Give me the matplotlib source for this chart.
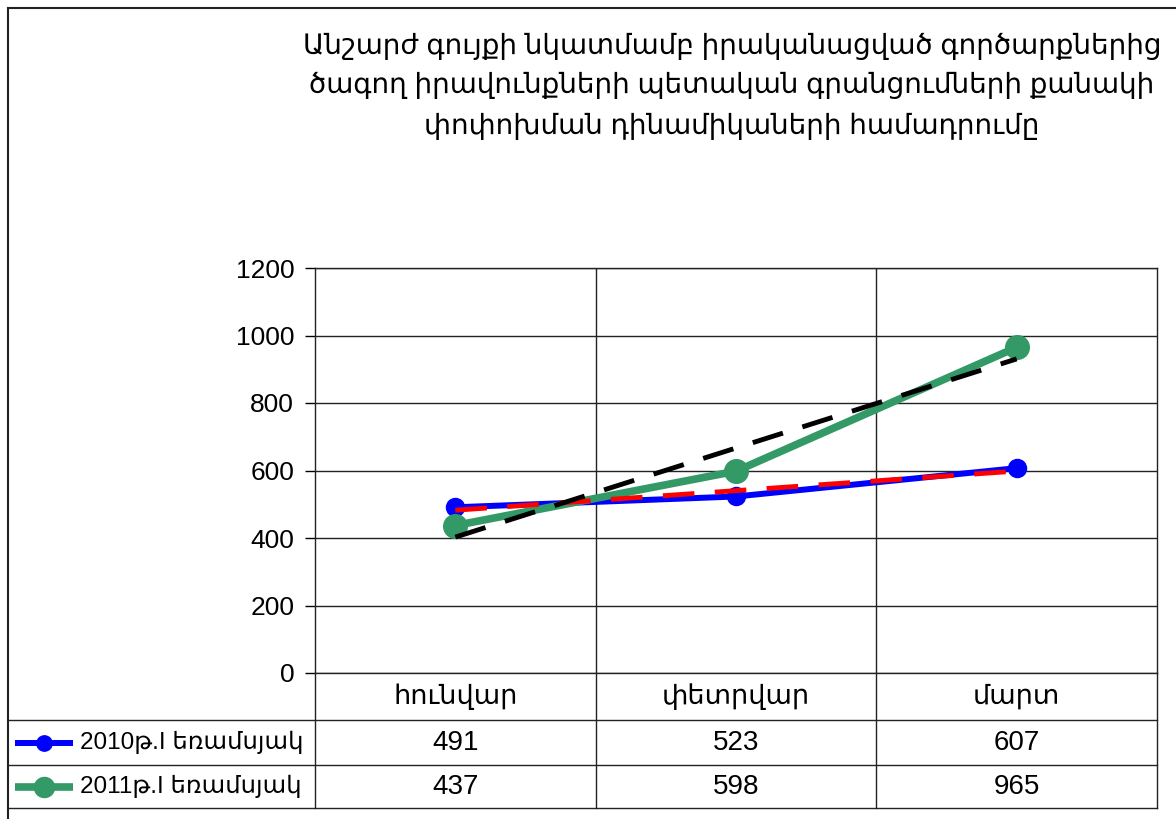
import numpy as np
import matplotlib
matplotlib.use("Agg")
import matplotlib.pyplot as plt
from matplotlib.lines import Line2D
from matplotlib.transforms import Affine2D, blended_transform_factory

plt.rcParams['font.family'] = ['Liberation Sans', 'DejaVu Sans']

# data
months = ['հունվար', 'փետրվար', 'մարտ']
series_names = ['2010թ.I եռամսյակ', '2011թ.I եռամսյակ']
v2010 = [491, 523, 607]
v2011 = [437, 598, 965]
yticks = [0, 200, 400, 600, 800, 1000, 1200]
title = ('Անշարժ գույքի նկատմամբ իրականացված գործարքներից\n'
         'ծագող իրավունքների պետական գրանցումների քանակի\n'
         'փոփոխման դինամիկաների համադրումը')

W, H = 1176, 819
fig = plt.figure(figsize=(W / 100, H / 100), dpi=100)
# pixel coords, origin top-left
pix = Affine2D().scale(1 / W, -1 / H).translate(0, 1) + fig.transFigure

L, R, T, B = 315, 1157, 268, 673
ax = fig.add_axes([L / W, 1 - B / H, (R - L) / W, (B - T) / H])

x = np.arange(1, len(months) + 1)
ax.set_xlim(0.5, len(months) + 0.5)
ax.set_ylim(0, 1200)
ax.set_yticks(yticks)
ax.set_xticks([])
ax.set_xticks(x[:-1] + 0.5, minor=True)
ax.tick_params(axis='y', length=7, width=1, pad=8, labelsize=19)
ax.tick_params(axis='x', which='minor', length=0)
ax.grid(axis='y', color='#222222', lw=1)
ax.grid(axis='x', which='minor', color='#222222', lw=1)
ax.set_axisbelow(True)
for s in ax.spines.values():
    s.set_color('#222222')
    s.set_linewidth(1)

styles = [dict(color='#0000ff', lw=4.3, ms=13), dict(color='#339966', lw=5.5, ms=17)]
trend_cols = ['#ff0000', '#000000']
for vals, st in zip([v2010, v2011], styles):
    ax.plot(x, vals, marker='o', color=st['color'], lw=st['lw'], ms=st['ms'],
            solid_capstyle='butt', zorder=3)
for vals, tc in zip([v2010, v2011], trend_cols):
    k, b = np.polyfit(x, vals, 1)
    ax.plot(x[[0, -1]], k * x[[0, -1]] + b, color=tc, lw=3.5,
            linestyle=(0, (6.5, 4.2)), zorder=4)

# title
fig.text(732 / W, 1 - 86 / H, title, ha='center', va='center', fontsize=20,
         multialignment='center', linespacing=1.6)

# data table below the axis
tr = blended_transform_factory(ax.transData, pix)
rows_y = [673, 720, 765, 808]
for xe in np.arange(0.5, len(months) + 1, 1.0):
    fig.add_artist(Line2D([xe, xe], [rows_y[0], rows_y[-1]], transform=tr,
                          color='#222222', lw=1))
for yy in rows_y[1:]:
    fig.add_artist(Line2D([8, R], [yy, yy], transform=pix, color='#222222', lw=1))

for xi, m in zip(x, months):
    fig.text(xi, (rows_y[0] + rows_y[1]) / 2, m, transform=tr, ha='center',
             va='center', fontsize=19.5)
for r, (name, vals, st) in enumerate(zip(series_names, [v2010, v2011], styles)):
    yc = (rows_y[r + 1] + rows_y[r + 2]) / 2
    for xi, v in zip(x, vals):
        fig.text(xi, yc, str(v), transform=tr, ha='center', va='center', fontsize=20)
    fig.add_artist(Line2D([15, 73], [yc, yc], transform=pix, color=st['color'],
                          lw=st['lw'], solid_capstyle='butt'))
    fig.add_artist(Line2D([44], [yc], transform=pix, marker='o', color=st['color'],
                          ms=st['ms'] * 0.85, lw=0))
    fig.text(80, yc, name, transform=pix, ha='left', va='center', fontsize=17.5)

# outer frame
fig.add_artist(Line2D([8, 8], [H, 8], transform=pix, color='#222222', lw=1.5))
fig.add_artist(Line2D([8, W], [8, 8], transform=pix, color='#222222', lw=1.5))

fig.savefig('out.png', dpi=100)
